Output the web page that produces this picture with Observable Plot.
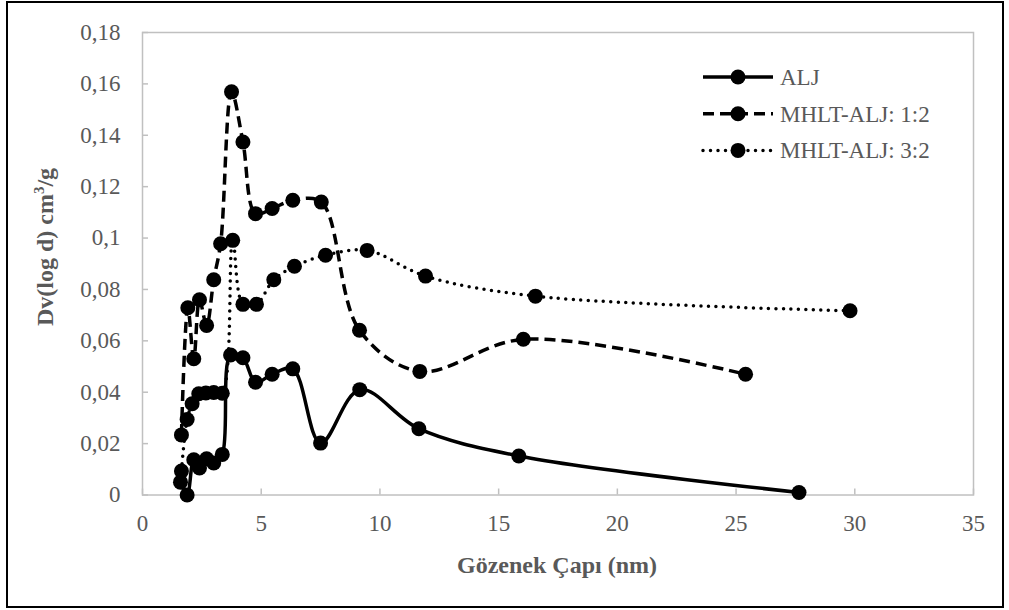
<!DOCTYPE html>
<html>
<head>
<meta charset="utf-8">
<script src="https://cdn.jsdelivr.net/npm/d3@7"></script>
<script src="https://cdn.jsdelivr.net/npm/@observablehq/plot@0.6"></script>
<style>
  html, body { margin: 0; padding: 0; background: #fff; }
  #wrap { position: relative; width: 1009px; height: 610px; overflow: hidden; font-family: "Liberation Serif", "Times New Roman", serif; }
  #border { position: absolute; left: 6px; top: 1px; width: 994px; height: 603px; border: 2px solid #000; }
  #chart { position: absolute; left: 0; top: 0; }
  .title { position: absolute; font-weight: bold; font-size: 24px; color: #595959; white-space: nowrap; }
  #xtitle { left: 557px; top: 565px; transform: translate(-50%, -50%); }
  #ytitle { left: 45px; top: 247px; transform: translate(-50%, -50%) rotate(-90deg); }
  #ytitle sup { font-size: 15px; vertical-align: 9px; line-height: 0; }
  #legend { position: absolute; left: 0; top: 0; }
</style>
</head>
<body>
<div id="wrap">
  <div id="border"></div>
  <div id="chart"></div>
  <div class="title" id="xtitle">Gözenek Çapı (nm)</div>
  <div class="title" id="ytitle">Dv(log d) cm<sup>3</sup>/g</div>
</div>
<script>
// ---- data ----
const seriesNames = ["ALJ", "MHLT-ALJ: 1:2", "MHLT-ALJ: 3:2"];

const aljX = [1.60, 1.88, 2.16, 2.40, 2.70, 3.00, 3.36, 3.71, 4.23, 4.76, 5.46, 6.33, 7.50, 9.15, 11.64, 15.85, 27.65];
const aljY = [0.0050, 0.0000, 0.0137, 0.0105, 0.0141, 0.0125, 0.0158, 0.0545, 0.0534, 0.0439, 0.0470, 0.0491, 0.0202, 0.0410, 0.0258, 0.0152, 0.0010];

const m12X = [1.64, 1.91, 2.16, 2.40, 2.70, 3.00, 3.29, 3.75, 4.23, 4.76, 5.46, 6.33, 7.53, 9.14, 11.68, 16.04, 25.40];
const m12Y = [0.0234, 0.0729, 0.0530, 0.0760, 0.0660, 0.0838, 0.0978, 0.1569, 0.1374, 0.1095, 0.1115, 0.1147, 0.1140, 0.0641, 0.0481, 0.0606, 0.0470];

const m32X = [1.64, 1.88, 2.09, 2.37, 2.67, 3.00, 3.36, 3.80, 4.23, 4.80, 5.53, 6.40, 7.71, 9.46, 11.92, 16.55, 29.80];
const m32Y = [0.0093, 0.0294, 0.0355, 0.0394, 0.0397, 0.0399, 0.0396, 0.0991, 0.0742, 0.0742, 0.0838, 0.0890, 0.0933, 0.0952, 0.0852, 0.0774, 0.0717];

const xTicks = [0, 5, 10, 15, 20, 25, 30, 35];
const yTicks = [0, 0.02, 0.04, 0.06, 0.08, 0.1, 0.12, 0.14, 0.16, 0.18];

// ---- build tables ----
const toRows = (xs, ys) => xs.map((x, i) => ({x, y: ys[i]}));
const alj = toRows(aljX, aljY);
const m12 = toRows(m12X, m12Y);
const m32 = toRows(m32X, m32Y);

const styles = [
  {strokeWidth: 3.5, strokeDasharray: null, strokeLinecap: "butt"},
  {strokeWidth: 3.5, strokeDasharray: "11,6", strokeLinecap: "butt"},
  {strokeWidth: 3.5, strokeDasharray: "0,7.5", strokeLinecap: "round"}
];
const tables = [alj, m12, m32];

const fmt = d => String(d).replace(".", ",");

const marks = [
  Plot.frame({stroke: "#c0c0c0", strokeWidth: 1.5}),
  Plot.axisX({ticks: xTicks, tickSize: -6, tickPadding: 26, stroke: "#c0c0c0", strokeWidth: 1.5, fill: "#595959", fontSize: 23, label: null}),
  Plot.axisY({ticks: yTicks, tickSize: -6, tickPadding: 28, stroke: "#c0c0c0", strokeWidth: 1.5, fill: "#595959", fontSize: 23, tickFormat: fmt, label: null})
];
tables.forEach((t, i) => {
  const s = styles[i];
  marks.push(Plot.line(t, {x: "x", y: "y", curve: "catmull-rom", stroke: "#000", strokeWidth: s.strokeWidth,
    strokeDasharray: s.strokeDasharray, strokeLinecap: s.strokeLinecap}));
});
tables.forEach(t => marks.push(Plot.dot(t, {x: "x", y: "y", r: 7.5, fill: "#000", stroke: null})));

const chart = Plot.plot({
  width: 1009,
  height: 610,
  marginLeft: 142,
  marginRight: 36,
  marginTop: 32,
  marginBottom: 115.5,
  style: {fontFamily: "Liberation Serif, Times New Roman, serif", fontSize: "23px", background: "transparent", overflow: "visible"},
  x: {domain: [0, 35]},
  y: {domain: [0, 0.18]},
  marks
});
document.getElementById("chart").appendChild(chart);

// ---- legend ----
const lg = d3.select("#wrap").append("svg").attr("id", "legend")
  .attr("width", 1009).attr("height", 610);
const lgX0 = 703, lgX1 = 773, lgY0 = 77, lgDy = 36.7;
seriesNames.forEach((name, i) => {
  const s = styles[i];
  const y = lgY0 + i * lgDy;
  lg.append("line").attr("x1", lgX0).attr("x2", lgX1).attr("y1", y).attr("y2", y)
    .attr("stroke", "#000").attr("stroke-width", s.strokeWidth)
    .attr("stroke-dasharray", s.strokeDasharray).attr("stroke-linecap", s.strokeLinecap);
  lg.append("circle").attr("cx", (lgX0 + lgX1) / 2).attr("cy", y).attr("r", 7.5).attr("fill", "#000");
  lg.append("text").attr("x", lgX1 + 7).attr("y", y).attr("dy", "0.35em")
    .attr("fill", "#595959").attr("font-size", 23)
    .attr("font-family", "Liberation Serif, Times New Roman, serif").text(name);
});
</script>
</body>
</html>
